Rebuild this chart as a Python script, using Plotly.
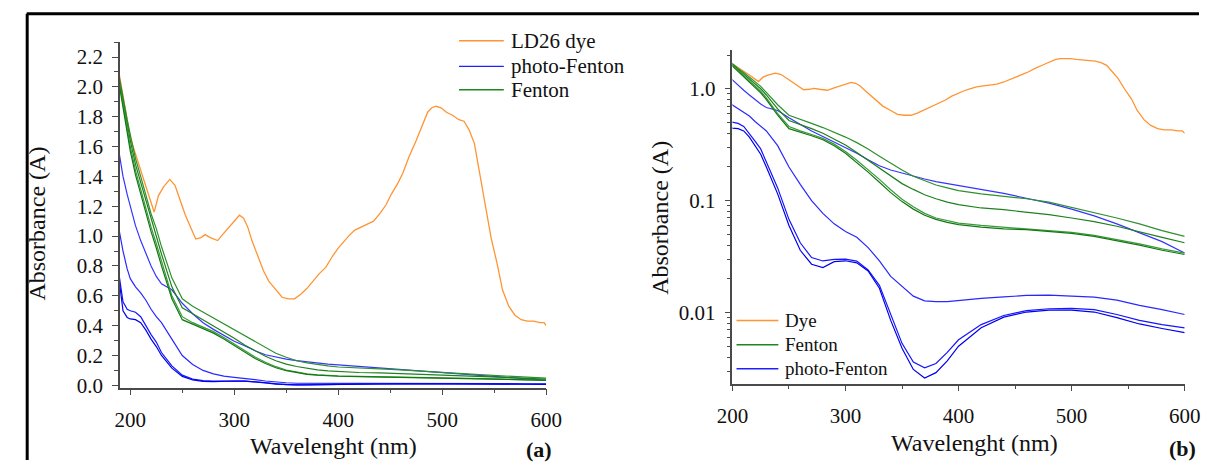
import plotly.graph_objects as go

# ---------------- data ----------------
dye_wl = [189, 195, 200, 205, 210, 215, 220, 223, 227, 232, 238, 243, 248, 253, 258, 263, 268, 272,
          277, 284, 290, 296, 301, 305, 309, 313, 317, 323, 328, 333, 340, 346, 352, 358, 364, 370,
          376, 382, 388, 394, 400, 405, 410, 416, 422, 428, 434, 440, 446, 451, 457, 462, 468, 475,
          481, 486, 490, 494, 499, 504, 510, 516, 521, 526, 531, 536, 541, 547, 553, 558, 564, 570,
          576, 582, 588, 594, 598, 600]
dye_abs = [2.10, 1.85, 1.66, 1.55, 1.44, 1.33, 1.22, 1.16, 1.27, 1.33, 1.38, 1.34, 1.24, 1.14, 1.06,
           0.98, 0.99, 1.01, 0.99, 0.97, 1.02, 1.07, 1.11, 1.14, 1.12, 1.06, 0.97, 0.86, 0.77, 0.70,
           0.64, 0.59, 0.58, 0.58, 0.61, 0.65, 0.70, 0.75, 0.79, 0.86, 0.92, 0.96, 1.00, 1.04, 1.06,
           1.08, 1.10, 1.15, 1.21, 1.28, 1.35, 1.42, 1.53, 1.64, 1.74, 1.83, 1.86, 1.87, 1.86, 1.83,
           1.81, 1.78, 1.77, 1.71, 1.62, 1.42, 1.24, 0.99, 0.81, 0.64, 0.53, 0.47, 0.44, 0.43, 0.43,
           0.42, 0.42, 0.40]

wl = [189, 193, 197, 200, 205, 210, 215, 220, 225, 230, 240, 250, 260, 270, 280, 290, 300, 310, 320,
      330, 340, 350, 360, 370, 380, 390, 400, 420, 440, 460, 480, 500, 520, 540, 560, 580, 600]

photo_fenton_1 = [1.57, 1.40, 1.28, 1.20, 1.07, 0.97, 0.88, 0.80, 0.73, 0.68, 0.64, 0.55, 0.48, 0.42,
                  0.375, 0.335, 0.295, 0.265, 0.232, 0.205, 0.188, 0.176, 0.165, 0.156, 0.148, 0.142,
                  0.137, 0.127, 0.116, 0.105, 0.095, 0.084, 0.073, 0.062, 0.052, 0.043, 0.034]
photo_fenton_2 = [1.05, 0.90, 0.78, 0.715, 0.66, 0.62, 0.57, 0.51, 0.46, 0.42, 0.31, 0.20, 0.14, 0.10,
                  0.077, 0.062, 0.053, 0.047, 0.038, 0.029, 0.021, 0.0172, 0.0140, 0.0127, 0.0125,
                  0.0125, 0.0128, 0.0134, 0.0138, 0.0142, 0.0143, 0.0141, 0.0137, 0.0129, 0.0116,
                  0.0106, 0.0096]
photo_fenton_3 = [0.75, 0.56, 0.51, 0.50, 0.49, 0.46, 0.40, 0.34, 0.29, 0.22, 0.13, 0.068, 0.042, 0.031,
                  0.0289, 0.0298, 0.0300, 0.0288, 0.024, 0.0175, 0.0095, 0.0053, 0.0036, 0.0032,
                  0.0035, 0.0044, 0.0057, 0.0078, 0.0094, 0.0104, 0.0108, 0.0109, 0.0106, 0.0096,
                  0.0085, 0.0078, 0.0073]
photo_fenton_4 = [0.72, 0.50, 0.455, 0.445, 0.44, 0.42, 0.37, 0.31, 0.26, 0.20, 0.115, 0.060, 0.036,
                  0.027, 0.0252, 0.0285, 0.0290, 0.0278, 0.0235, 0.0165, 0.0085, 0.0048, 0.0031,
                  0.0026, 0.0029, 0.0037, 0.0050, 0.0073, 0.0091, 0.0101, 0.0105, 0.0105, 0.0101,
                  0.0090, 0.0079, 0.0072, 0.0066]

fenton_1 = [2.08, 1.92, 1.78, 1.68, 1.52, 1.40, 1.27, 1.15, 1.05, 0.93, 0.72, 0.58, 0.53, 0.49, 0.45,
            0.41, 0.37, 0.33, 0.29, 0.25, 0.215, 0.188, 0.165, 0.150, 0.138, 0.130, 0.123, 0.115,
            0.110, 0.104, 0.097, 0.087, 0.079, 0.070, 0.062, 0.054, 0.048]
fenton_2 = [2.06, 1.90, 1.75, 1.64, 1.48, 1.36, 1.23, 1.11, 1.00, 0.88, 0.66, 0.52, 0.48, 0.44, 0.40,
            0.355, 0.315, 0.27, 0.23, 0.195, 0.165, 0.142, 0.126, 0.113, 0.104, 0.097, 0.092, 0.086,
            0.083, 0.079, 0.075, 0.070, 0.065, 0.059, 0.053, 0.047, 0.042]
fenton_3 = [2.05, 1.88, 1.72, 1.60, 1.44, 1.31, 1.18, 1.06, 0.95, 0.83, 0.60, 0.46, 0.42, 0.39, 0.36,
            0.32, 0.275, 0.23, 0.19, 0.155, 0.125, 0.103, 0.088, 0.077, 0.070, 0.066, 0.063, 0.060,
            0.058, 0.056, 0.054, 0.052, 0.049, 0.045, 0.041, 0.037, 0.034]
fenton_4 = [2.03, 1.86, 1.70, 1.57, 1.41, 1.28, 1.15, 1.03, 0.92, 0.80, 0.58, 0.44, 0.41, 0.38, 0.35,
            0.31, 0.265, 0.22, 0.18, 0.146, 0.118, 0.098, 0.084, 0.074, 0.068, 0.064, 0.061, 0.058,
            0.056, 0.055, 0.053, 0.051, 0.048, 0.044, 0.040, 0.036, 0.033]

photo_series = [photo_fenton_1, photo_fenton_2, photo_fenton_3, photo_fenton_4]
fenton_series = [fenton_1, fenton_2, fenton_3, fenton_4]

left_y_ticks = [0.0, 0.2, 0.4, 0.6, 0.8, 1.0, 1.2, 1.4, 1.6, 1.8, 2.0, 2.2]
right_y_ticks = [0.01, 0.1, 1.0]
right_y_ticktext = ["0.01", "0.1", "1.0"]
x_ticks = [200, 300, 400, 500, 600]
left_legend_labels = ["LD26 dye", "photo-Fenton", "Fenton"]
right_legend_labels = ["Dye", "Fenton", "photo-Fenton"]

# ---------------- style ----------------
W, H = 1215, 470
SERIF = "Liberation Serif"
ORANGE = "#FF9433"
BLUE = "#2020FF"
GREEN = "#1E861E"
BLUES = ["#3535FF", "#2828FF", "#1414FF", "#0000EE"]
GREENS = ["#2E902E", "#1E801E", "#3A9A3A", "#127812"]
AX = "#4a4a4a"
TXT = "#111111"

fig = go.Figure()

def add_panel(xa, ya):
    fig.add_trace(go.Scatter(x=dye_wl, y=dye_abs, mode="lines", name="Dye",
                             line=dict(color=ORANGE, width=1.3), xaxis=xa, yaxis=ya,
                             showlegend=False))
    for i, s in enumerate(photo_series):
        fig.add_trace(go.Scatter(x=wl, y=s, mode="lines", name="photo-Fenton",
                                 line=dict(color=BLUES[i], width=1.2), xaxis=xa, yaxis=ya,
                                 showlegend=False))
    for i, s in enumerate(fenton_series):
        fig.add_trace(go.Scatter(x=wl, y=s, mode="lines", name="Fenton",
                                 line=dict(color=GREENS[i], width=1.2), xaxis=xa, yaxis=ya,
                                 showlegend=False))

add_panel("x", "y")
add_panel("x2", "y2")

tickfont = dict(family=SERIF, size=21, color=TXT)
common_axis = dict(showline=True, linecolor=AX, linewidth=1.6, ticks="outside", ticklen=6,
                   tickwidth=1.4, tickcolor=AX, showgrid=False, zeroline=False, tickfont=tickfont)
minor_lin = dict(ticks="outside", ticklen=4, tickcolor=AX, tickwidth=1.2)

fig.update_layout(
    width=W, height=H, margin=dict(l=0, r=0, t=0, b=0),
    paper_bgcolor="white", plot_bgcolor="white", showlegend=False,
    font=dict(family=SERIF, color=TXT),
    xaxis=dict(domain=[106.7 / W, 544.5 / W], range=[190, 600], tickvals=x_ticks,
               ticklabelstandoff=6,
               minor=dict(dtick=50, tick0=0, **minor_lin), anchor="y", **common_axis),
    yaxis=dict(domain=[1 - 396 / H, 1 - 43 / H], range=[-0.015, 2.3], tickvals=left_y_ticks,
               tickformat=".1f", ticklabelstandoff=5, minor=dict(dtick=0.1, tick0=0, **minor_lin),
               anchor="x", **common_axis),
    xaxis2=dict(domain=[735.8 / W, 1200.3 / W], range=[200, 600], tickvals=x_ticks,
                ticklabelstandoff=6,
                minor=dict(dtick=50, tick0=0, **minor_lin), anchor="y2", **common_axis),
    yaxis2=dict(domain=[1 - 392 / H, 1 - 50.7 / H], type="log", range=[-2.636, 0.35],
                tickvals=right_y_ticks, ticktext=right_y_ticktext, ticklabelstandoff=5,
                minor=dict(tickvals=[0.003, 0.004, 0.005, 0.006, 0.007, 0.008, 0.009,
                                     0.02, 0.03, 0.04, 0.05, 0.06, 0.07, 0.08, 0.09,
                                     0.2, 0.3, 0.4, 0.5, 0.6, 0.7, 0.8, 0.9, 2.0], **minor_lin),
                anchor="x2", **common_axis),
)

title_font = dict(family=SERIF, size=24, color=TXT)
annotations = [
    dict(text="Wavelenght (nm)", x=326 / W, y=1 - 456 / H, font=title_font),
    dict(text="Wavelenght (nm)", x=984 / W, y=1 - 453 / H, font=title_font),
    dict(text="Absorbance (A)", x=22 / W, y=1 - 228 / H, font=title_font, textangle=-90),
    dict(text="Absorbance (A)", x=662 / W, y=1 - 223 / H, font=title_font, textangle=-90),
    dict(text="<b>(a)</b>", x=537 / W, y=1 - 459 / H, font=dict(family=SERIF, size=22, color=TXT)),
    dict(text="<b>(b)</b>", x=1198 / W, y=1 - 458 / H, font=dict(family=SERIF, size=22, color=TXT)),
]
for a in annotations:
    a.update(xanchor="center")

shapes = [
    # frame of the figure (top and left edges visible)
    dict(type="line", xref="paper", yref="paper", x0=11 / W, x1=1.0, y0=1 - 14 / H, y1=1 - 14 / H,
         line=dict(color="black", width=3)),
    dict(type="line", xref="paper", yref="paper", x0=11.5 / W, x1=11.5 / W, y0=0, y1=1 - 14 / H,
         line=dict(color="black", width=3)),
]

# legends (sample line + label)
left_rows = [41.7, 67.8, 91.7]
left_cols = [ORANGE, BLUE, GREEN]
for lab, yy, c in zip(left_legend_labels, left_rows, left_cols):
    shapes.append(dict(type="line", xref="paper", yref="paper", x0=455 / W, x1=501 / W,
                       y0=1 - yy / H, y1=1 - yy / H, line=dict(color=c, width=1.4)))
    annotations.append(dict(text=lab, x=506 / W, y=1 - yy / H, xanchor="left",
                            font=dict(family=SERIF, size=21, color=TXT)))
right_rows = [327.5, 352.2, 376.7]
right_cols = [ORANGE, GREEN, BLUE]
for lab, yy, c in zip(right_legend_labels, right_rows, right_cols):
    shapes.append(dict(type="line", xref="paper", yref="paper", x0=740 / W, x1=783 / W,
                       y0=1 - yy / H, y1=1 - yy / H, line=dict(color=c, width=1.4)))
    annotations.append(dict(text=lab, x=788 / W, y=1 - yy / H, xanchor="left",
                            font=dict(family=SERIF, size=19, color=TXT)))

for a in annotations:
    a.update(xref="paper", yref="paper", showarrow=False, yanchor="middle")

fig.update_layout(annotations=annotations, shapes=shapes)

fig.write_html("out.html")
